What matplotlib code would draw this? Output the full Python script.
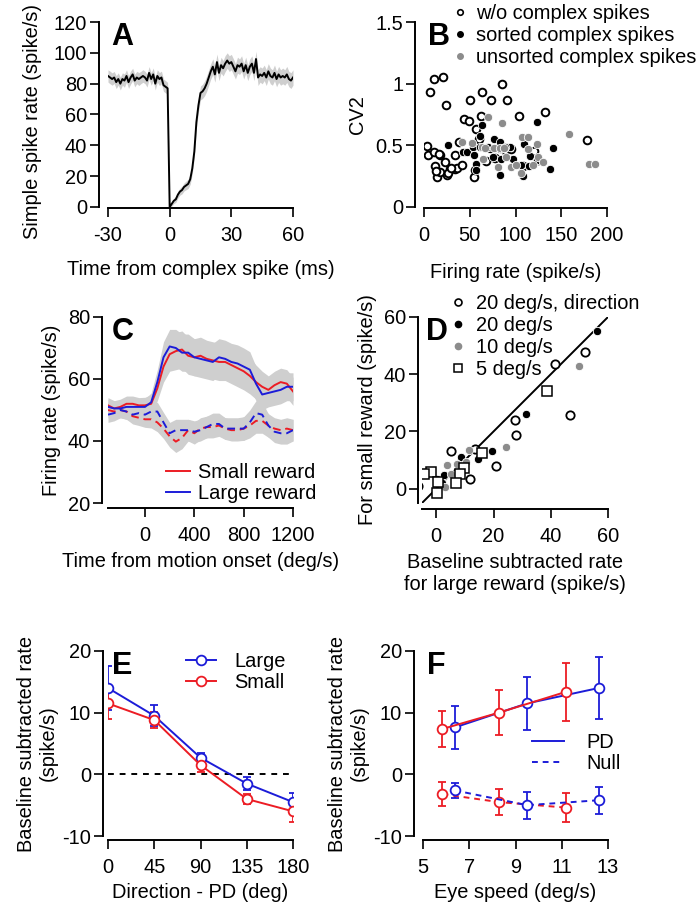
import matplotlib
matplotlib.use('Agg')
import matplotlib.pyplot as plt
import numpy as np
from matplotlib.lines import Line2D

plt.rcParams['font.family'] = ['Liberation Sans', 'DejaVu Sans']
plt.rcParams['axes.unicode_minus'] = False
FS = 14.4
RED = '#ec1c24'
BLUE = '#1c1cd8'
GRAY = '#8c8c8c'
BAND = '#cfcfcf'

# ---------------- data ----------------
# A: simple spike rate around complex spike
time_a = np.arange(-30, 61)
rate_a = [85, 84, 83, 84, 81, 83, 80, 83, 82, 85, 81, 84, 86, 82, 84, 83, 84, 85, 84, 82,
          87, 83, 86, 80, 85, 83, 84, 79, 78, 77,
          0, 2, 4, 5, 8, 10, 11, 13, 14, 15,
          18, 25, 36, 55, 66, 74, 75, 77, 80, 84,
          88, 91, 86, 94, 87, 92, 90, 93, 95, 93,
          94, 91, 88, 92, 91, 93, 88, 92, 87, 91,
          93, 87, 96, 84, 86, 85, 87, 84, 88, 85,
          84, 87, 83, 86, 84, 85, 84, 86, 83, 82,
          84]
sem_a = [4.0, 4.1, 4.0, 3.9, 4.2, 4.0, 4.1, 4.0, 4.3, 4.0, 4.1, 4.2, 4.0, 4.1, 4.0, 4.2, 4.0, 4.1, 4.0, 4.2,
         4.1, 4.0, 4.2, 4.1, 4.0, 4.2, 4.1, 4.0, 4.0, 3.8,
         1.0, 1.5, 1.8, 2.0, 2.2, 2.3, 2.5, 2.6, 2.8, 3.0,
         3.2, 3.5, 3.8, 4.0, 4.2, 4.5, 4.6, 4.8, 5.0, 5.0,
         5.0, 5.1, 5.0, 5.2, 5.0, 5.1, 5.0, 5.2, 5.0, 5.1,
         5.0, 5.1, 5.0, 5.2, 5.0, 5.1, 5.0, 5.2, 5.0, 5.1,
         5.0, 5.1, 5.0, 5.2, 5.0, 5.1, 5.0, 5.2, 5.0, 5.1,
         5.0, 5.1, 5.0, 5.2, 5.0, 5.1, 5.0, 5.2, 5.0, 5.1,
         5.0]

# B: CV2 vs firing rate
wo_rate = [3.3, 4.4, 6.2, 10.9, 21, 10.9, 17, 12.4, 14.6, 17.5, 23, 23.7, 25, 28, 33.5,
           34, 36, 38.6, 41, 44, 49, 50, 55, 57, 63, 62, 73.6, 85, 91, 104,
           132.6, 178.5, 26, 29.5, 16.8, 13, 56, 60, 78, 88, 108, 120, 125, 68, 95]
wo_cv2 = [0.495, 0.42, 0.93, 1.035, 1.05, 0.446, 0.42, 0.33, 0.243, 0.284, 0.365, 0.824, 0.257, 0.31, 0.42,
          0.31, 0.32, 0.53, 0.34, 0.71, 0.70, 0.87, 0.24, 0.635, 0.93, 0.74, 0.865, 1.0, 0.865, 0.74,
          0.77, 0.546, 0.273, 0.314, 0.427, 0.29, 0.30, 0.55, 0.40, 0.46, 0.33, 0.45, 0.38, 0.37, 0.47]
sorted_rate = [26, 43, 47, 54, 55, 57, 57, 61, 63, 61, 72, 77, 83, 84.5, 75,
               83, 97, 83, 94, 109, 108, 106, 116, 115, 123, 123, 138, 141, 70, 88]
sorted_cv2 = [0.50, 0.446, 0.446, 0.486, 0.424, 0.35, 0.297, 0.573, 0.662, 0.486, 0.473, 0.554, 0.527, 0.39, 0.405,
              0.257, 0.39, 0.473, 0.486, 0.513, 0.25, 0.338, 0.413, 0.332, 0.69, 0.378, 0.305, 0.48, 0.49, 0.486]
unsorted_rate = [42, 52, 63, 67, 65, 70, 77, 83, 85, 87, 81, 95.5, 90, 101, 107,
                 114, 114, 123, 125, 130, 158, 180, 186.5, 119, 106]
unsorted_cv2 = [0.527, 0.52, 0.486, 0.48, 0.39, 0.73, 0.48, 0.48, 0.684, 0.48, 0.324, 0.324, 0.405, 0.338, 0.565,
                0.565, 0.473, 0.513, 0.405, 0.365, 0.595, 0.35, 0.346, 0.338, 0.276]

# C: firing rate vs time from motion onset
time_c = [-300, -250, -200, -150, -100, -50, 0, 50, 100, 150, 200, 250, 300, 350, 400, 450,
          500, 550, 600, 650, 700, 750, 800, 850, 900, 950, 1000, 1050, 1100, 1150, 1200]
large_pd_c = [51, 50.5, 50.5, 51, 51, 51, 51, 52.5, 59, 67, 70.5, 70, 68.5, 68.5, 67, 66.5,
              66, 65.5, 67, 66.5, 65.5, 65, 64, 63, 58.5, 55, 55.5, 56, 56.5, 57.5, 57.5]
small_pd_c = [51.5, 50.5, 51, 52, 52, 51.5, 51.5, 52, 57, 64, 68, 69, 69.5, 67.5, 67, 67.5,
              66.5, 66, 65.5, 65.5, 64.5, 63.5, 62.5, 61, 59, 57.5, 56.5, 58, 59, 58.5, 56]
small_null_c = [50, 49.5, 50, 49.5, 48, 47.5, 47, 47, 46, 44, 41.5, 39.8, 41, 43.5, 42.5, 44,
                44.5, 44.5, 45, 44, 43.5, 43.5, 44, 45, 46.5, 46.5, 45, 44, 43.5, 44, 43.5]
large_null_c = [48.5, 49, 50, 49.5, 48.5, 49, 48.5, 49.5, 49.5, 46, 42.5, 43.5, 43.5, 43.5, 43, 43.5,
                44.5, 45.5, 45.5, 44, 44, 44, 44, 46, 49, 48.5, 45, 43, 42.5, 42.5, 43.5]
sem_pd_c = [2.5, 2.5, 2.5, 2.5, 2.5, 2.5, 2.6, 3.0, 4.0, 5.0, 5.5, 6.0, 6.0, 6.0, 6.0, 6.0,
            6.0, 6.0, 6.0, 6.0, 6.0, 6.0, 6.0, 5.8, 5.5, 5.0, 4.5, 4.5, 4.5, 4.5, 4.5]
sem_null_c = [2.5, 2.5, 2.5, 2.5, 2.5, 2.5, 2.6, 2.8, 3.0, 3.2, 3.5, 3.5, 3.5, 3.5, 3.5, 3.5,
              3.5, 3.5, 3.5, 3.5, 3.5, 3.5, 3.8, 4.0, 4.0, 4.0, 3.8, 3.5, 3.5, 3.5, 3.5]

# D: small vs large reward responses
dir20_large = [-6.5, 5, 11.8, 20.8, 27.5, 27.8, 41.5, 46.6, 52, 13.5]
dir20_small = [1, 13, 3.4, 8.1, 23.9, 18.8, 43.5, 25.9, 47.6, 14]
sp20_large = [56.2, 31.3, 19.3, 14.4, 8.5, 2.7, 0.35, 1.9]
sp20_small = [55.2, 26.2, 13, 10.4, 11, 4.9, 3.4, 2]
sp10_large = [50, 24.3, 11.5, 3.6, 7.4, 10.3, 5, 3]
sp10_small = [42.8, 14.5, 13.6, 8.4, 8.7, 9.2, 5, 0.5]
sp5_large = [38.7, 16.1, 9.7, 8.3, 7, -1.75, -4.3, 0.6, 0.1]
sp5_small = [34, 12.3, 7.3, 5.3, 1.9, 6, 5, 2.5, -1.5]
unity = [-5, 60]

# E: direction tuning
direction = [0, 45, 90, 135, 180]
large_e = [14, 9.5, 2.7, -1.5, -4.5]
large_e_err = [3.5, 1.7, 0.8, 1.0, 1.5]
small_e = [11.5, 8.8, 1.5, -4.0, -6.0]
small_e_err = [2.5, 1.3, 1.2, 0.8, 1.7]

# F: speed tuning
speed_small = [5.84, 8.28, 11.2]
speed_large = [6.37, 9.5, 12.6]
small_pd_f = [7.36, 10.0, 13.4]
small_pd_f_err = [2.9, 3.7, 4.7]
large_pd_f = [7.6, 11.5, 14.0]
large_pd_f_err = [3.5, 4.3, 5.1]
small_null_f = [-3.2, -4.5, -5.4]
small_null_f_err = [1.9, 2.1, 2.4]
large_null_f = [-2.6, -5.0, -4.2]
large_null_f_err = [1.2, 2.2, 2.2]

# ---------------- figure ----------------
W, H = 696, 905
fig = plt.figure(figsize=(W / 100, H / 100), dpi=100)


def add_ax(l, r, t, b):
    return fig.add_axes([l / W, 1 - b / H, (r - l) / W, (b - t) / H])


def style(ax, loff, boff):
    for s in ['top', 'right']:
        ax.spines[s].set_visible(False)
    ax.spines['left'].set_position(('outward', loff * 0.72))
    ax.spines['bottom'].set_position(('outward', boff * 0.72))
    for s in ['left', 'bottom']:
        ax.spines[s].set_linewidth(1.4)
    ax.tick_params(direction='out', length=6.5, width=1.2, labelsize=FS)
    ax.tick_params(axis='x', pad=6.5)
    ax.tick_params(axis='y', pad=2)
    ax.patch.set_visible(False)


def letter(ax, s):
    ax.text(0.02, 1.0, s, transform=ax.transAxes, fontsize=22, fontweight='bold',
            va='top', ha='left')


def fig_legend(ax, handles, labels, x, y, **kw):
    leg = ax.legend(handles, labels, loc='upper left', bbox_to_anchor=(x / W, 1 - y / H),
                    bbox_transform=fig.transFigure, frameon=False, fontsize=FS,
                    borderpad=0, borderaxespad=0, **kw)
    return leg


# A
axA = add_ax(108, 293, 22, 207)
style(axA, 9, 1)
axA.fill_between(time_a, np.array(rate_a) - np.array(sem_a), np.array(rate_a) + np.array(sem_a),
                 color=BAND, lw=0)
axA.plot(time_a, rate_a, color='black', lw=1.4)
axA.set_xlim(-30, 60)
axA.set_ylim(0, 120)
axA.set_xticks([-30, 0, 30, 60])
axA.set_yticks([0, 20, 40, 60, 80, 100, 120])
axA.set_xlabel('Time from complex spike (ms)', fontsize=FS, labelpad=11)
axA.set_ylabel('Simple spike rate (spike/s)', fontsize=FS)
axA.yaxis.set_label_coords(-0.355, 0.46)
letter(axA, 'A')

# B
axB = add_ax(424, 607, 22, 207)
style(axB, 9, 1)
axB.plot(wo_rate, wo_cv2, 'o', mfc='white', mec='black', ms=5.5, mew=1.4, ls='none')
axB.plot(sorted_rate, sorted_cv2, 'o', mfc='black', mec='white', ms=6, mew=0.6, ls='none')
axB.plot(unsorted_rate, unsorted_cv2, 'o', mfc=GRAY, mec='white', ms=6, mew=0.6, ls='none')
axB.set_xlim(0, 200)
axB.set_ylim(0, 1.5)
axB.set_xticks([0, 50, 100, 150, 200])
axB.set_yticks([0, 0.5, 1, 1.5])
axB.set_yticklabels(['0', '0.5', '1', '1.5'])
axB.set_xlabel('Firing rate (spike/s)', fontsize=FS, labelpad=13)
axB.set_ylabel('CV2', fontsize=FS, labelpad=6)
letter(axB, 'B')
hB = [Line2D([], [], marker='o', ls='none', mfc='white', mec='black', ms=4, mew=1.2),
      Line2D([], [], marker='o', ls='none', mfc='black', mec='black', ms=4),
      Line2D([], [], marker='o', ls='none', mfc=GRAY, mec=GRAY, ms=4)]
fig_legend(axB, hB, ['w/o complex spikes', 'sorted complex spikes', 'unsorted complex spikes'],
           452, 4, handlelength=0.8, handletextpad=0.4, labelspacing=0.15)

# C
axC = add_ax(108, 293, 317, 503)
style(axC, 6, 5)
for y, e in [(large_pd_c, sem_pd_c), (small_pd_c, sem_pd_c),
             (small_null_c, sem_null_c), (large_null_c, sem_null_c)]:
    axC.fill_between(time_c, np.array(y) - np.array(e), np.array(y) + np.array(e), color=BAND, lw=0)
axC.plot(time_c, small_pd_c, color=RED, lw=1.4)
axC.plot(time_c, large_pd_c, color=BLUE, lw=1.4)
axC.plot(time_c, small_null_c, color=RED, lw=1.4, ls=(0, (4, 2.5)))
axC.plot(time_c, large_null_c, color=BLUE, lw=1.4, ls=(0, (4, 2.5)))
axC.set_xlim(-300, 1200)
axC.set_ylim(20, 80)
axC.set_xticks([0, 400, 800, 1200])
axC.set_yticks([20, 40, 60, 80])
axC.set_xlabel('Time from motion onset (deg/s)', fontsize=FS, labelpad=5)
axC.set_ylabel('Firing rate (spike/s)', fontsize=FS, labelpad=5)
letter(axC, 'C')
hC = [Line2D([], [], color=RED, lw=1.4), Line2D([], [], color=BLUE, lw=1.4)]
fig_legend(axC, hC, ['Small reward', 'Large reward'], 166, 463,
           handlelength=1.2, handletextpad=0.4, labelspacing=0.08)

# D
axD = add_ax(422, 608, 317, 503)
style(axD, 4, 6)
axD.plot(unity, unity, color='black', lw=1.4)
axD.plot(dir20_large, dir20_small, 'o', mfc='white', mec='black', ms=6, mew=1.3, ls='none')
axD.plot(sp20_large, sp20_small, 'o', mfc='black', mec='white', ms=6, mew=0.6, ls='none')
axD.plot(sp10_large, sp10_small, 'o', mfc=GRAY, mec='white', ms=6, mew=0.6, ls='none')
axD.plot(sp5_large, sp5_small, 's', mfc='white', mec='black', ms=6.5, mew=1.1, ls='none')
axD.set_xlim(-5, 60)
axD.set_ylim(-5, 60)
axD.set_xticks([0, 20, 40, 60])
axD.set_yticks([0, 20, 40, 60])
axD.set_xlabel('Baseline subtracted rate\nfor large reward (spike/s)', fontsize=FS, labelpad=5)
axD.set_ylabel('For small reward (spike/s)', fontsize=FS, labelpad=5)
letter(axD, 'D')
hD = [Line2D([], [], marker='o', ls='none', mfc='white', mec='black', ms=5, mew=1.2),
      Line2D([], [], marker='o', ls='none', mfc='black', mec='black', ms=4.5),
      Line2D([], [], marker='o', ls='none', mfc=GRAY, mec=GRAY, ms=4.5),
      Line2D([], [], marker='s', ls='none', mfc='white', mec='black', ms=6, mew=1.1)]
fig_legend(axD, hD, ['20 deg/s, direction', '20 deg/s', '10 deg/s', '5 deg/s'], 450, 294,
           handlelength=0.8, handletextpad=0.5, labelspacing=0.15)

# E
axE = add_ax(108, 293, 651, 836)
style(axE, 5, 4)
axE.plot([0, 180], [0, 0], color='black', lw=1.4, ls=(0, (3, 3)))
axE.errorbar(direction, large_e, yerr=large_e_err, color=BLUE, marker='o', mfc='white',
             mec=BLUE, ms=7, mew=1.3, lw=1.4, capsize=3, capthick=1.3, elinewidth=1.3)
axE.errorbar(direction, small_e, yerr=small_e_err, color=RED, marker='o', mfc='white',
             mec=RED, ms=7, mew=1.3, lw=1.4, capsize=3, capthick=1.3, elinewidth=1.3)
axE.set_xlim(0, 180)
axE.set_ylim(-10, 20)
axE.set_xticks([0, 45, 90, 135, 180])
axE.set_yticks([-10, 0, 10, 20])
axE.set_xlabel('Direction - PD (deg)', fontsize=FS, labelpad=4)
axE.set_ylabel('Baseline subtracted rate\n(spike/s)', fontsize=FS, labelpad=3)
letter(axE, 'E')
hE = [Line2D([], [], color=BLUE, lw=1.4, marker='o', mfc='white', mec=BLUE, ms=7, mew=1.3),
      Line2D([], [], color=RED, lw=1.4, marker='o', mfc='white', mec=RED, ms=7, mew=1.3)]
fig_legend(axE, hE, ['Large', 'Small'], 186, 652,
           handlelength=1.5, handletextpad=0.9, labelspacing=0.12)

# F
axF = add_ax(423, 608, 651, 836)
style(axF, 9, 4)
ekw = dict(marker='o', mfc='white', ms=7, mew=1.3, lw=1.4, capsize=3, capthick=1.3, elinewidth=1.3)
axF.errorbar(speed_large, large_pd_f, yerr=large_pd_f_err, color=BLUE, mec=BLUE, **ekw)
axF.errorbar(speed_small, small_pd_f, yerr=small_pd_f_err, color=RED, mec=RED, **ekw)
e1 = axF.errorbar(speed_small, small_null_f, yerr=small_null_f_err, color=RED, mec=RED, **ekw)
e1[0].set_linestyle((0, (3, 2.5)))
e2 = axF.errorbar(speed_large, large_null_f, yerr=large_null_f_err, color=BLUE, mec=BLUE, **ekw)
e2[0].set_linestyle((0, (3, 2.5)))
axF.set_xlim(5, 13)
axF.set_ylim(-10, 20)
axF.set_xticks([5, 7, 9, 11, 13])
axF.set_yticks([-10, 0, 10, 20])
axF.set_xlabel('Eye speed (deg/s)', fontsize=FS, labelpad=4)
axF.set_ylabel('Baseline subtracted rate\n(spike/s)', fontsize=FS, labelpad=3)
letter(axF, 'F')
hF = [Line2D([], [], color=BLUE, lw=1.4), Line2D([], [], color=BLUE, lw=1.4, ls=(0, (3, 2.5)))]
fig_legend(axF, hF, ['PD', 'Null'], 532, 733,
           handlelength=1.6, handletextpad=1.1, labelspacing=0.08)

fig.savefig('out.png', dpi=100)
